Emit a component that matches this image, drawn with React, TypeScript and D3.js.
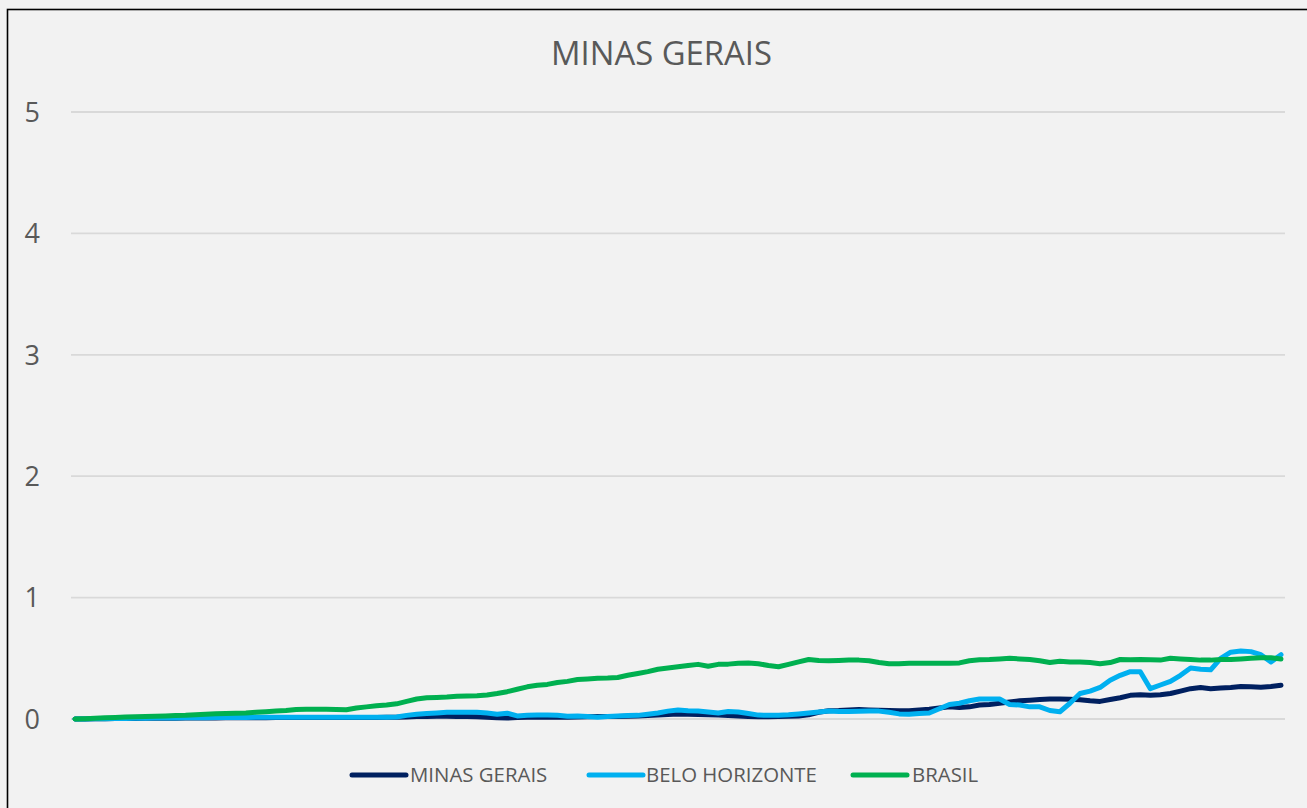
import React from "react";
import * as d3 from "d3";

const TITLE = "MINAS GERAIS";
const SERIES_NAMES = ["MINAS GERAIS", "BELO HORIZONTE", "BRASIL"];
const SERIES_COLORS = ["#002060", "#00b0f0", "#00b050"];
const Y_TICKS = [0, 1, 2, 3, 4, 5];

const minasGerais = [
  0, 0.001, 0.002, 0.003, 0.004, 0.005, 0.005, 0.006, 0.006, 0.007,
  0.007, 0.008, 0.008, 0.009, 0.009, 0.01, 0.01, 0.01, 0.011, 0.011,
  0.012, 0.012, 0.012, 0.012, 0.012, 0.012, 0.012, 0.012, 0.012, 0.013,
  0.013, 0.014, 0.015, 0.017, 0.02, 0.02, 0.022, 0.022, 0.02, 0.02,
  0.018, 0.015, 0.01, 0.008, 0.012, 0.015, 0.015, 0.015, 0.015, 0.015,
  0.017, 0.018, 0.02, 0.02, 0.02, 0.022, 0.025, 0.028, 0.032, 0.038,
  0.042, 0.04, 0.038, 0.035, 0.032, 0.028, 0.025, 0.02, 0.018, 0.018,
  0.02, 0.022, 0.025, 0.035, 0.055, 0.068, 0.07, 0.075, 0.078, 0.075,
  0.072, 0.07, 0.068, 0.068, 0.075, 0.08, 0.09, 0.1, 0.095, 0.1,
  0.115, 0.12, 0.13, 0.14, 0.15, 0.155, 0.16, 0.165, 0.165, 0.162,
  0.158, 0.15, 0.145, 0.16, 0.175, 0.195, 0.2, 0.195, 0.2, 0.21,
  0.23, 0.25, 0.26, 0.25, 0.255, 0.26, 0.268, 0.265, 0.262, 0.268,
  0.278,
];

const beloHorizonte = [
  0, 0.001, 0.002, 0.003, 0.004, 0.005, 0.006, 0.007, 0.008, 0.008,
  0.009, 0.01, 0.01, 0.011, 0.012, 0.012, 0.013, 0.013, 0.014, 0.014,
  0.015, 0.015, 0.015, 0.015, 0.015, 0.015, 0.015, 0.015, 0.015, 0.015,
  0.015, 0.015, 0.016, 0.03, 0.04, 0.045, 0.05, 0.055, 0.055, 0.055,
  0.055, 0.05, 0.04, 0.048, 0.025, 0.03, 0.032, 0.032, 0.03, 0.022,
  0.025, 0.02, 0.015, 0.02, 0.025, 0.028, 0.03, 0.04, 0.05, 0.065,
  0.075, 0.068, 0.065, 0.058, 0.05, 0.062, 0.058, 0.045, 0.032, 0.03,
  0.03, 0.035, 0.042, 0.05, 0.058, 0.065, 0.062, 0.062, 0.063, 0.065,
  0.065, 0.055, 0.042, 0.04, 0.045, 0.05, 0.085, 0.12, 0.13, 0.15,
  0.165, 0.165, 0.165, 0.12, 0.115, 0.1, 0.1, 0.07, 0.06, 0.13,
  0.21, 0.23, 0.26, 0.32, 0.36, 0.39, 0.39, 0.25, 0.28, 0.31,
  0.36, 0.42, 0.41, 0.405, 0.5, 0.55, 0.56, 0.555, 0.53, 0.47,
  0.53,
];

const brasil = [
  0, 0.003, 0.006, 0.01, 0.013, 0.016, 0.018, 0.02, 0.022, 0.025,
  0.028, 0.031, 0.036, 0.04, 0.043, 0.045, 0.047, 0.05, 0.055, 0.06,
  0.066, 0.07, 0.078, 0.08, 0.08, 0.08, 0.078, 0.076, 0.09, 0.1,
  0.11, 0.115, 0.125, 0.145, 0.165, 0.175, 0.178, 0.182, 0.188, 0.19,
  0.192, 0.198, 0.21, 0.225, 0.245, 0.265, 0.278, 0.285, 0.3, 0.31,
  0.325, 0.33, 0.336, 0.338, 0.342, 0.36, 0.375, 0.39, 0.41, 0.42,
  0.43, 0.44, 0.45, 0.435, 0.45, 0.452, 0.46, 0.462, 0.455, 0.44,
  0.43, 0.45, 0.47, 0.49, 0.482, 0.48, 0.482, 0.485, 0.485, 0.48,
  0.465, 0.455, 0.455, 0.46, 0.46, 0.46, 0.46, 0.46, 0.462, 0.48,
  0.488, 0.49, 0.495, 0.5, 0.495, 0.49, 0.48, 0.465, 0.475, 0.47,
  0.47, 0.465, 0.455, 0.465, 0.49, 0.488, 0.49, 0.488, 0.485, 0.5,
  0.495, 0.49, 0.485, 0.485, 0.49, 0.49, 0.495, 0.5, 0.505, 0.505,
  0.495,
];

const SERIES = [minasGerais, beloHorizonte, brasil];

const W = 1307;
const H = 808;
const FONT = "'Open Sans', 'DejaVu Sans', sans-serif";

export default function App() {
  const n = brasil.length;
  const x = d3.scaleLinear().domain([0, n - 1]).range([75, 1281]);
  const y = d3.scaleLinear().domain([0, 5]).range([719, 112]);
  const line = d3
    .line<number>()
    .x((_, i) => x(i))
    .y((d) => y(d));

  const legendItems = [
    { lx: 352, tx: 410 },
    { lx: 589, tx: 646 },
    { lx: 853, tx: 912 },
  ];

  return (
    <svg
      width={W}
      height={H}
      style={{ position: "absolute", left: 0, top: 0, background: "#f2f2f2" }}
    >
      <rect x={0} y={0} width={W} height={H} fill="#f2f2f2" />
      <rect
        x={7.5}
        y={9.5}
        width={W + 20}
        height={H + 20}
        fill="#f2f2f2"
        stroke="#000"
        strokeWidth={1.6}
      />
      <text
        x={661.5}
        y={64.5}
        textAnchor="middle"
        fontFamily={FONT}
        fontSize={32.8}
        fill="#595959"
      >
        {TITLE}
      </text>
      {Y_TICKS.map((t) => (
        <g key={t}>
          <line
            x1={71}
            x2={1285}
            y1={y(t)}
            y2={y(t)}
            stroke="#d9d9d9"
            strokeWidth={1.8}
          />
          <text
            x={40}
            y={y(t)}
            dy="0.36em"
            textAnchor="end"
            fontFamily={FONT}
            fontSize={27}
            fill="#595959"
          >
            {t}
          </text>
        </g>
      ))}
      {SERIES.map((s, k) => (
        <path
          key={k}
          d={line(s) || ""}
          fill="none"
          stroke={SERIES_COLORS[k]}
          strokeWidth={5}
          strokeLinejoin="round"
          strokeLinecap="round"
        />
      ))}
      {SERIES_NAMES.map((name, k) => (
        <g key={name}>
          <line
            x1={legendItems[k].lx}
            x2={legendItems[k].lx + 54}
            y1={775}
            y2={775}
            stroke={SERIES_COLORS[k]}
            strokeWidth={5}
            strokeLinecap="round"
          />
          <text
            x={legendItems[k].tx}
            y={775}
            dy="0.36em"
            fontFamily={FONT}
            fontSize={20.4}
            fill="#595959"
          >
            {name}
          </text>
        </g>
      ))}
    </svg>
  );
}
